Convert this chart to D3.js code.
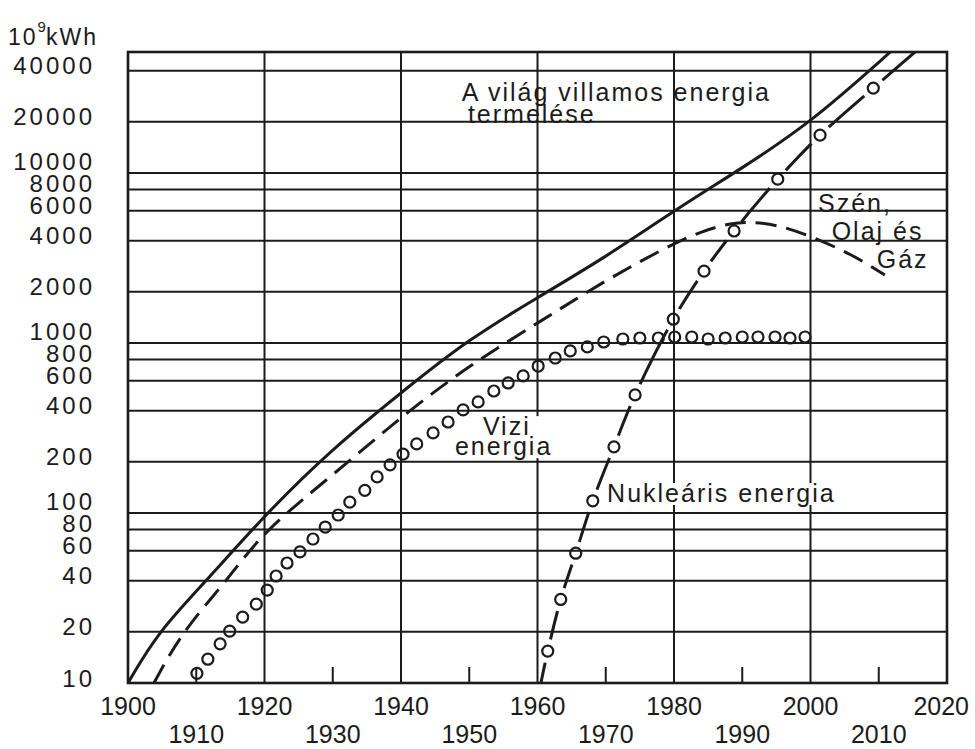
<!DOCTYPE html>
<html>
<head>
<meta charset="utf-8">
<script src="https://cdn.jsdelivr.net/npm/d3@7"></script>
<style>
  body { margin: 0; background: #fff; }
  svg { display: block; font-family: "Liberation Sans", Arial, sans-serif; }
</style>
</head>
<body>
<script>
// axis ticks (10^9 kWh, log scale)
const yTicks = [10, 20, 40, 60, 80, 100, 200, 400, 600, 800, 1000, 2000, 4000, 6000, 8000, 10000, 20000, 40000];
const xMajor = [1900, 1920, 1940, 1960, 1980, 2000, 2020];
const xMinor = [1910, 1930, 1950, 1970, 1990, 2010];

// A világ villamos energia termelése (solid)
const totalYears  = [1900, 1904.4, 1911.5, 1920.3, 1930, 1940, 1950, 1960, 1970, 1980, 1990, 2000, 2011.7];
const totalValues = [10, 20, 40, 100, 240, 510, 1060, 1850, 3200, 6000, 10700, 19700, 51500];

// Szén, olaj és gáz (dashed)
const fossilYears  = [1903.8, 1907.9, 1914.5, 1919.8, 1930, 1940.3, 1950, 1960.7, 1969.2, 1979, 1984, 1988.6, 1991, 1995.1, 2000.4, 2006.2, 2010.9];
const fossilValues = [10, 20, 40, 78, 167, 376, 740, 1360, 2245, 3690, 4550, 5100, 5150, 4980, 4200, 3300, 2510];

// Vízi energia (circles)
const hydroYears  = [1910.1, 1911.7, 1913.5, 1914.9, 1916.8, 1918.8, 1920.4, 1921.7, 1923.3, 1925.2, 1927.1, 1928.9,
                     1930.8, 1932.5, 1934.7, 1936.5, 1938.4, 1940.3, 1942.3, 1944.7, 1946.9, 1949.1, 1951.3, 1953.6,
                     1955.7, 1957.9, 1960.1, 1962.6, 1964.8, 1967.3, 1969.7, 1972.5, 1975.0, 1977.7, 1980.1, 1982.6,
                     1985.0, 1987.5, 1990.0, 1992.3, 1994.8, 1997.0, 1999.2];
const hydroValues = [11.4, 13.8, 17, 20.2, 24.4, 29.1, 35.2, 42.6, 50.8, 59, 70.3, 82.7,
                     97.3, 116, 136, 163, 192, 222, 255, 296, 343, 404, 450, 522,
                     582, 640, 732, 816, 898, 948, 1014, 1056, 1070, 1070, 1085, 1085,
                     1056, 1070, 1085, 1085, 1085, 1070, 1085];

// Nukleáris energia (dash + circles; first and last point are line ends only)
const nuclearYears  = [1960.5, 1961.5, 1963.4, 1965.6, 1968.1, 1971.2, 1974.3, 1979.9, 1984.4, 1988.8, 1995.2, 2001.4, 2009.2, 2015.3];
const nuclearValues = [10, 15.4, 31, 58, 118, 245, 495, 1380, 2650, 4560, 9200, 16700, 31600, 51500];

// in-plot labels, anchored at (year, value) of their baseline start
const notes = [
  { text: "A világ villamos energia", year: 1948.9, value: 26500 },
  { text: "termelése", year: 1949.8, value: 19700 },
  { text: "Szén,", year: 2001.1, value: 5900 },
  { text: "Olaj és", year: 2003.1, value: 4050 },
  { text: "Gáz", year: 2009.7, value: 2760 },
  { text: "Vizi", year: 1952, value: 287, box: "vizi" },
  { text: "energia", year: 1947.9, value: 219, box: "vizi" },
  { text: "Nukleáris energia", year: 1970.2, value: 116, box: "nuk" }
];

const W = 975, H = 749;
const ink = "#1b1b1b";

const svg = d3.select("body").append("svg")
    .attr("width", W)
    .attr("height", H);

const x = d3.scaleLinear().domain([1900, 2020]).range([128, 947]);
const y = d3.scaleLog().domain([10, 51500]).range([683, 52]);

const defs = svg.append("defs");
defs.append("clipPath").attr("id", "plot")
  .append("rect")
    .attr("x", x(1900)).attr("y", y(51500))
    .attr("width", x(2020) - x(1900)).attr("height", y(10) - y(51500));

// grid
svg.append("g").selectAll("line")
  .data(yTicks.slice(1))
  .join("line")
    .attr("x1", x(1900)).attr("x2", x(2020))
    .attr("y1", d => y(d)).attr("y2", d => y(d))
    .attr("stroke", ink).attr("stroke-width", 2);

svg.append("g").selectAll("line")
  .data(xMajor)
  .join("line")
    .attr("x1", d => x(d)).attr("x2", d => x(d))
    .attr("y1", y(10)).attr("y2", y(51500))
    .attr("stroke", ink).attr("stroke-width", 2);

svg.append("rect")
    .attr("x", x(1900)).attr("y", y(51500))
    .attr("width", x(2020) - x(1900)).attr("height", y(10) - y(51500))
    .attr("fill", "none").attr("stroke", ink).attr("stroke-width", 2.6);

svg.append("g").selectAll("line")
  .data(xMinor)
  .join("line")
    .attr("x1", d => x(d)).attr("x2", d => x(d))
    .attr("y1", y(10)).attr("y2", y(10) - 16)
    .attr("stroke", ink).attr("stroke-width", 2);

// y tick labels, pushed apart from the bottom up where they crowd
const labelY = yTicks.map(v => y(v) - 5);
for (let i = 1; i < labelY.length; i++) {
  labelY[i] = Math.min(labelY[i], labelY[i - 1] - 22);
}
svg.append("g").selectAll("text")
  .data(yTicks)
  .join("text")
    .attr("x", 95)
    .attr("y", (d, i) => labelY[i])
    .attr("dy", "0.36em")
    .attr("text-anchor", "end")
    .attr("font-size", 24)
    .attr("letter-spacing", 3)
    .attr("fill", ink)
    .text(d => d);

// unit
const unit = svg.append("text")
    .attr("x", 8).attr("y", 45)
    .attr("font-size", 23)
    .attr("letter-spacing", 2)
    .attr("fill", ink);
unit.append("tspan").text("10");
unit.append("tspan").attr("dy", -13).attr("font-size", 15).attr("letter-spacing", 0).text("9");
unit.append("tspan").attr("dy", 13).text("kWh");

// x tick labels, two rows
const xRow = (data, dy) => svg.append("g").selectAll("text")
  .data(data)
  .join("text")
    .attr("x", d => x(d))
    .attr("y", y(10) + dy)
    .attr("text-anchor", "middle")
    .attr("font-size", 25)
    .attr("fill", ink)
    .text(d => d)
    .attr("x", function(d) {
      const w = this.getComputedTextLength();
      return Math.max(w / 2 + 4, Math.min(x(d), W - w / 2 - 6));
    });
xRow(xMajor, 32);
xRow(xMinor, 60);

// labels (white box under the ones that cut the grid)
const noteG = svg.append("g");
const boxG = noteG.append("g");
const noteText = noteG.selectAll("text")
  .data(notes)
  .join("text")
    .attr("x", d => x(d.year))
    .attr("y", d => y(d.value))
    .attr("font-size", 25)
    .attr("letter-spacing", 2)
    .attr("fill", ink)
    .text(d => d.text);

d3.groups(notes.filter(d => d.box), d => d.box).forEach(([key, items]) => {
  const boxes = noteText.filter(d => d.box === key).nodes().map(n => n.getBBox());
  const x0 = d3.min(boxes, b => b.x) - 3, x1 = d3.max(boxes, b => b.x + b.width) + 2;
  const y0 = d3.min(boxes, b => b.y) + 4, y1 = d3.max(boxes, b => b.y + b.height) - 2;
  boxG.append("rect")
      .attr("x", x0).attr("y", y0)
      .attr("width", x1 - x0).attr("height", y1 - y0)
      .attr("fill", "#fff");
});

// series
const smooth = d3.line()
    .x(d => x(d[0]))
    .y(d => y(d[1]))
    .curve(d3.curveBasis);

const through = d3.line()
    .x(d => x(d[0]))
    .y(d => y(d[1]))
    .curve(d3.curveCatmullRom);

const plot = svg.append("g").attr("clip-path", "url(#plot)");

plot.append("path")
    .datum(d3.zip(totalYears, totalValues))
    .attr("d", smooth)
    .attr("fill", "none")
    .attr("stroke", ink)
    .attr("stroke-width", 3);

plot.append("path")
    .datum(d3.zip(fossilYears, fossilValues))
    .attr("d", smooth)
    .attr("fill", "none")
    .attr("stroke", ink)
    .attr("stroke-width", 3)
    .attr("stroke-dasharray", "21,10");

const nuclear = d3.zip(nuclearYears, nuclearValues);
const nuclearMarks = nuclear.slice(1, -1);

const gap = defs.append("mask")
    .attr("id", "nuc-gap")
    .attr("maskUnits", "userSpaceOnUse")
    .attr("x", 0).attr("y", 0).attr("width", W).attr("height", H);
gap.append("rect").attr("width", W).attr("height", H).attr("fill", "#fff");
gap.selectAll("circle")
  .data(nuclearMarks)
  .join("circle")
    .attr("cx", d => x(d[0]))
    .attr("cy", d => y(d[1]))
    .attr("r", 12)
    .attr("fill", "#000");

plot.append("path")
    .datum(nuclear)
    .attr("d", through)
    .attr("fill", "none")
    .attr("stroke", ink)
    .attr("stroke-width", 3)
    .attr("mask", "url(#nuc-gap)");

plot.append("g").selectAll("circle")
  .data(nuclearMarks)
  .join("circle")
    .attr("cx", d => x(d[0]))
    .attr("cy", d => y(d[1]))
    .attr("r", 5.5)
    .attr("fill", "none")
    .attr("stroke", ink)
    .attr("stroke-width", 2.2);

plot.append("g").selectAll("circle")
  .data(d3.zip(hydroYears, hydroValues))
  .join("circle")
    .attr("cx", d => x(d[0]))
    .attr("cy", d => y(d[1]))
    .attr("r", 5.5)
    .attr("fill", "none")
    .attr("stroke", ink)
    .attr("stroke-width", 2.2);
</script>
</body>
</html>
